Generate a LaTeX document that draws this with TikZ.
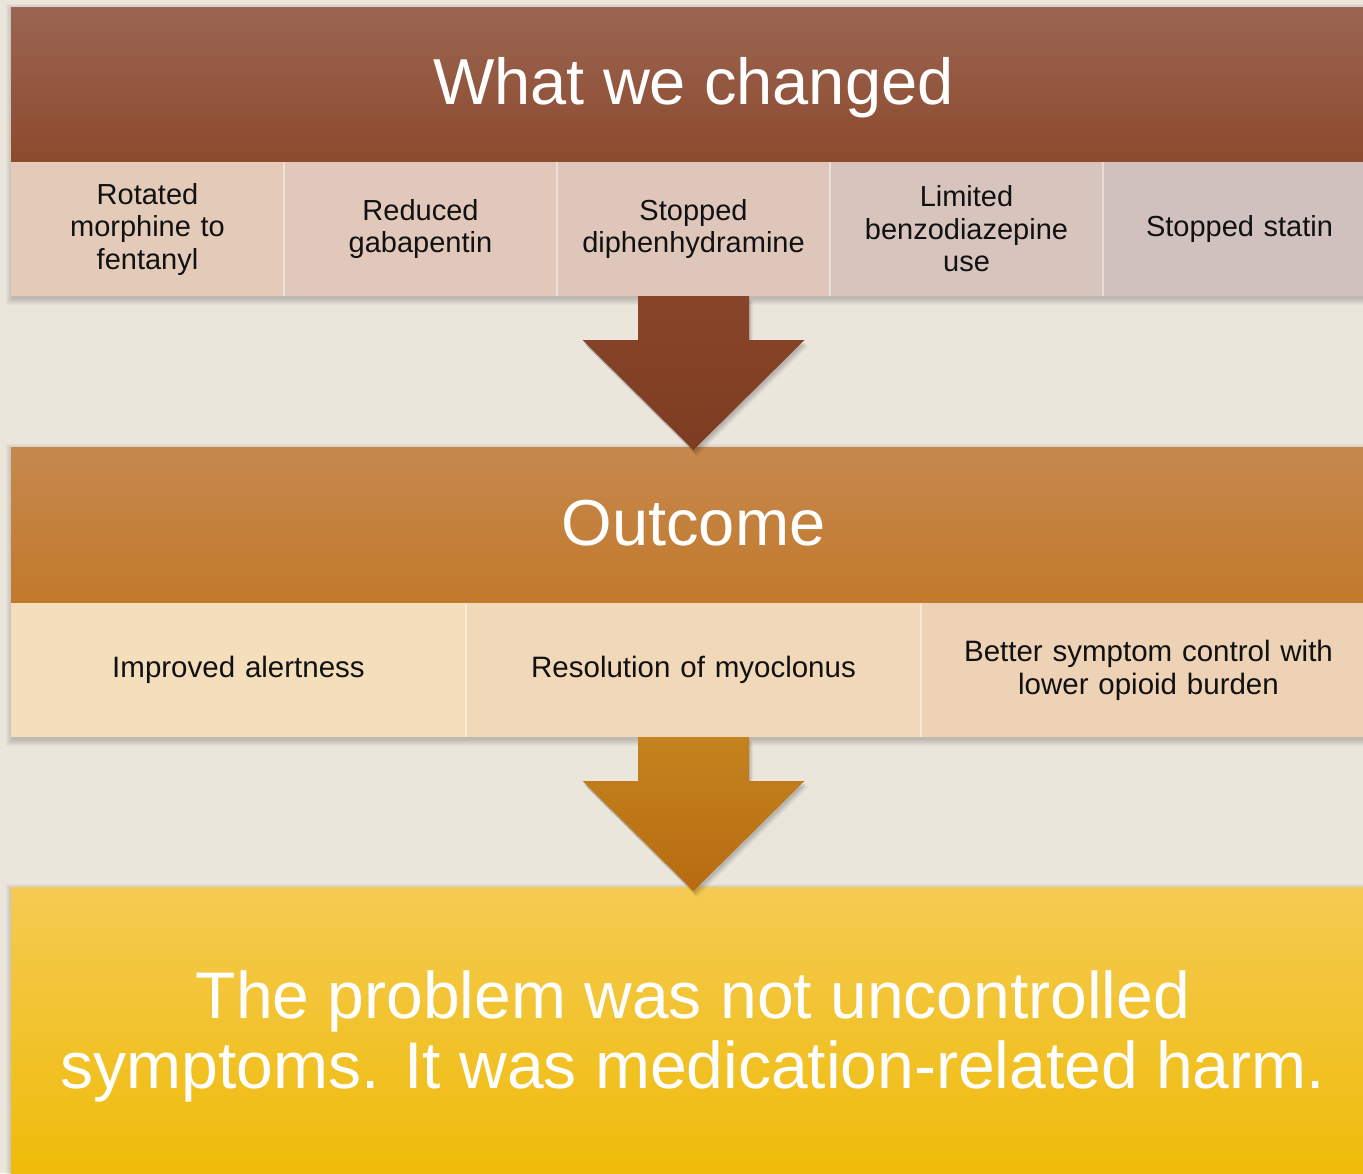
\documentclass[tikz,border=0pt]{standalone}
\usepackage{fontspec}
\setmainfont{Liberation Sans}
\usetikzlibrary{calc}

\definecolor{pagebg}{HTML}{EBE6DC}
\definecolor{hdrAtop}{HTML}{9A6552}
\definecolor{hdrAbot}{HTML}{8D4A2D}
\definecolor{cA1}{HTML}{E4CAB8}
\definecolor{cA2}{HTML}{E1C8BA}
\definecolor{cA3}{HTML}{DEC6BB}
\definecolor{cA4}{HTML}{D7C4BD}
\definecolor{cA5}{HTML}{D1C1BE}
\definecolor{arrAtop}{HTML}{89452A}
\definecolor{arrAbot}{HTML}{7D3C21}
\definecolor{hdrBtop}{HTML}{C6884E}
\definecolor{hdrBbot}{HTML}{C27A2B}
\definecolor{cB1}{HTML}{F4DEBB}
\definecolor{cB2}{HTML}{F1D8B8}
\definecolor{cB3}{HTML}{EDD2B5}
\definecolor{arrBtop}{HTML}{C4831F}
\definecolor{arrBbot}{HTML}{B86B10}
\definecolor{boxtop}{HTML}{F5CA52}
\definecolor{boxmid}{HTML}{FBCB12}
\definecolor{boxbot}{HTML}{EEBA00}
\definecolor{celltext}{HTML}{111111}

% soft drop shadow under a panel: x0,y0 (top left), x1,y1 (bottom right)
\newcommand\panelshadow[4]{%
  \foreach \r in {0,...,6}{%
    \fill[black, opacity=0.028]
      ({#1-\r+1},{#2-\r+3}) rectangle ({#3+\r+1},{#4+\r+3});}}

\begin{document}
\begin{tikzpicture}[x=1pt,y=-1pt,
  header/.style={rectangle, anchor=north west, inner sep=0pt, outer sep=0pt,
      minimum width=1365pt, minimum height=#1, text=white,
      font=\fontsize{65}{70}\selectfont, text height=40pt, text depth=0pt},
  cellA/.style={rectangle, anchor=north west, inner sep=0pt, outer sep=0pt,
      minimum width=273pt, minimum height=134pt, text width=262pt,
      align=center, text=celltext, font=\fontsize{29}{32.5}\selectfont},
  cellB/.style={rectangle, anchor=north west, inner sep=0pt, outer sep=0pt,
      minimum width=455pt, minimum height=134pt, text width=440pt,
      align=center, text=celltext, font=\fontsize{29.5}{33}\selectfont},
  divider/.style={draw=white, draw opacity=0.45, line width=1.2pt},
  arrowshade/.style={black, opacity=#1}
]
\useasboundingbox (0,0) rectangle (1363,1173);
\clip (0,0) rectangle (1363,1173);
\fill[pagebg] (0,0) rectangle (1363,1173);

% ---- shadows under the three panels ----
\panelshadow{11}{7}{1376}{296}
\panelshadow{11}{447}{1376}{737}
\panelshadow{11}{887}{1376}{1210}

% ---- first panel: what we changed ----
\node[header=155pt, top color=hdrAtop, bottom color=hdrAbot] (hdrA) at (11,7) {What we changed};
\node[cellA, fill=cA1] (a1) at (hdrA.south west) {Rotated\\morphine to\\fentanyl};
\node[cellA, fill=cA2] (a2) at (a1.north east) {Reduced\\gabapentin};
\node[cellA, fill=cA3] (a3) at (a2.north east) {Stopped\\diphenhydramine};
\node[cellA, fill=cA4] (a4) at (a3.north east) {Limited\\benzodiazepine\\use};
\node[cellA, fill=cA5] (a5) at (a4.north east) {Stopped statin};
\foreach \c in {a1,a2,a3,a4}
  \draw[divider] (\c.north east) -- (\c.south east);

% ---- second panel: outcome ----
\node[header=156pt, top color=hdrBtop, bottom color=hdrBbot] (hdrB) at (11,447) {Outcome};
\node[cellB, fill=cB1] (b1) at (hdrB.south west) {Improved alertness};
\node[cellB, fill=cB2] (b2) at (b1.north east) {Resolution of myoclonus};
\node[cellB, fill=cB3] (b3) at (b2.north east) {Better symptom control with\\lower opioid burden};
\foreach \c in {b1,b2}
  \draw[divider] (\c.north east) -- (\c.south east);

% ---- conclusion box ----
\node[rectangle, anchor=north west, inner sep=0pt, outer sep=0pt,
      minimum width=1365pt, minimum height=323pt,
      top color=boxtop, middle color=boxmid, bottom color=boxbot] (hdrC) at (11,887) {};
\node[text=white, align=center, font=\fontsize{66}{70}\selectfont] (msg) at (693,1036)
  {The problem was not uncontrolled\\symptoms. It was medication-related harm.};

% ---- block arrows between the panels (soft shadow, then body) ----
\foreach \src in {a3,b2}{
  \foreach \dx/\dy/\op in {4/6/0.04, 3/5/0.05, 2/4/0.06, 1/3/0.07}
    \fill[arrowshade=\op] ($(\src.south)+(\dx,\dy)$) ++(-55.5,0) -- ++(111,0) -- ++(0,44)
      -- ++(55.5,0) -- ++(-111,110) -- ++(-111,-110) -- ++(55.5,0) -- cycle;
}
\path[top color=arrAtop, bottom color=arrAbot]
  (a3.south) ++(-55.5,0) -- ++(111,0) -- ++(0,44) -- ++(55.5,0)
  -- ++(-111,110) -- ++(-111,-110) -- ++(55.5,0) -- cycle;
\path[top color=arrBtop, bottom color=arrBbot]
  (b2.south) ++(-55.5,0) -- ++(111,0) -- ++(0,44) -- ++(55.5,0)
  -- ++(-111,110) -- ++(-111,-110) -- ++(55.5,0) -- cycle;
\end{tikzpicture}
\end{document}
